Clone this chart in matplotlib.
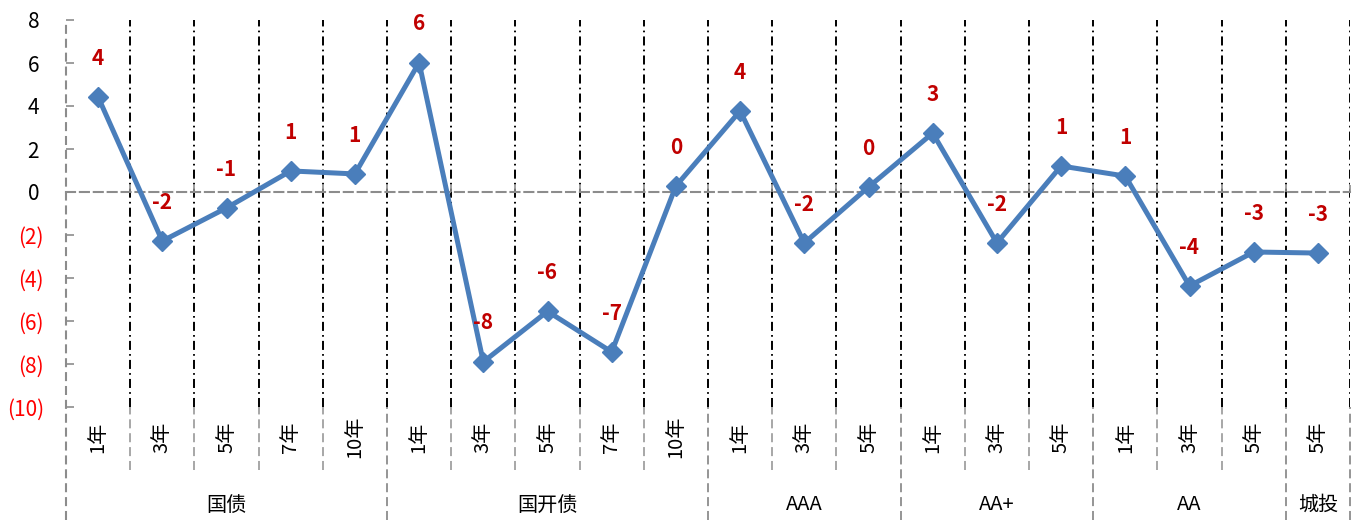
import numpy as np
import matplotlib
matplotlib.use('Agg')
import matplotlib.pyplot as plt

plt.rcParams['font.family'] = ['Noto Sans CJK SC', 'DejaVu Sans']
plt.rcParams['lines.scale_dashes'] = False

#==================datos==================
terms = ['1年', '3年', '5年', '7年', '10年',
         '1年', '3年', '5年', '7年', '10年',
         '1年', '3年', '5年',
         '1年', '3年', '5年',
         '1年', '3年', '5年',
         '5年']
groups = ['国债', '国开债', 'AAA', 'AA+', 'AA', '城投']
group_sizes = [5, 5, 3, 3, 3, 1]
values = [4.42, -2.28, -0.74, 0.98, 0.84,
          6.02, -7.90, -5.55, -7.44, 0.28,
          3.77, -2.37, 0.23,
          2.74, -2.37, 1.21,
          0.74, -4.37, -2.79, -2.84]
yticks = [8, 6, 4, 2, 0, -2, -4, -6, -8, -10]

#==================colores y estilos==================
c_line = '#4A7EBB'
c_lab = '#C00000'
c_grey = '#8C8C8C'
c_grey2 = '#A0A0A0'
dashdot = (0, (6.5, 3.0, 1.2, 3.0))
dashed = (0, (6.5, 3.5))

W, H = 1362, 520
fig = plt.figure(figsize=(W / 100, H / 100), dpi=100)
x0, x1, ytop, ybot = 66, 1350, 20, 407
ax = fig.add_axes([x0 / W, (H - ybot) / H, (x1 - x0) / W, (ybot - ytop) / H])

n = len(values)
x = np.arange(n)
ax.set_xlim(-0.5, n - 0.5)
ax.set_ylim(-10, 8)

# fronteras entre categorias
bounds = np.arange(n) + 0.5
for b in bounds:
    ax.axvline(b, 0, 1, color='black', lw=1.4, ls=dashdot, zorder=1)

# fronteras de grupos (se extienden hasta abajo)
gedges = np.concatenate([[0], np.cumsum(group_sizes)]) - 0.5
ext_cat = -(470 - ybot) / (ybot - ytop)
ext_grp = -(H - ybot) / (ybot - ytop)
for b in bounds:
    if b in gedges:
        continue
    ax.axvline(b, ext_cat, 0, color=c_grey2, lw=1.3, ls=dashed, clip_on=False)
for b in gedges:
    top = 0 if b > -0.5 else 1
    ax.axvline(b, ext_grp, top, color=c_grey, lw=1.5 if b == -0.5 else 1.3,
               ls=dashed, clip_on=False, zorder=2)

# eje x en cero
for s in ['top', 'right', 'left']:
    ax.spines[s].set_visible(False)
ax.spines['bottom'].set_position(('data', 0))
ax.spines['bottom'].set_color(c_grey)
ax.spines['bottom'].set_linestyle(dashed)
ax.spines['bottom'].set_linewidth(1.5)
ax.set_xticks(bounds)
ax.set_xticklabels([])
ax.tick_params(axis='x', direction='in', length=5, color=c_grey, width=1.2)

# eje y
ax.set_yticks(yticks)
ylabels = [f'{v} ' if v >= 0 else f'({-v})' for v in yticks]
ax.set_yticklabels(ylabels, fontsize=15)
for lbl, v in zip(ax.get_yticklabels(), yticks):
    lbl.set_color('black' if v >= 0 else '#FF0000')
ax.tick_params(axis='y', direction='in', length=6, color=c_grey, width=1.2, pad=16)

# serie
ax.plot(x, values, color=c_line, lw=3.6, marker='D', ms=10, mec=c_line,
        mfc=c_line, zorder=5, clip_on=False)
for xi, v in zip(x, values):
    ax.annotate(f'{v:.0f}', (xi, v), xytext=(0, 28), textcoords='offset points',
                ha='center', va='center', color=c_lab, fontsize=15,
                fontweight='bold', zorder=6)

# etiquetas de plazo y grupo
tr = ax.get_xaxis_transform()
y_cat = -(437 - ybot) / (ybot - ytop)
y_grp = -(505 - ybot) / (ybot - ytop)
for xi, t in zip(x, terms):
    ax.text(xi, y_cat, t, rotation=90, ha='center', va='center',
            fontsize=14.5, transform=tr)
for g, a, b in zip(groups, gedges[:-1], gedges[1:]):
    ax.text((a + b) / 2, y_grp, g, ha='center', va='center',
            fontsize=14.5, transform=tr)

fig.savefig('out.png', dpi=100)
